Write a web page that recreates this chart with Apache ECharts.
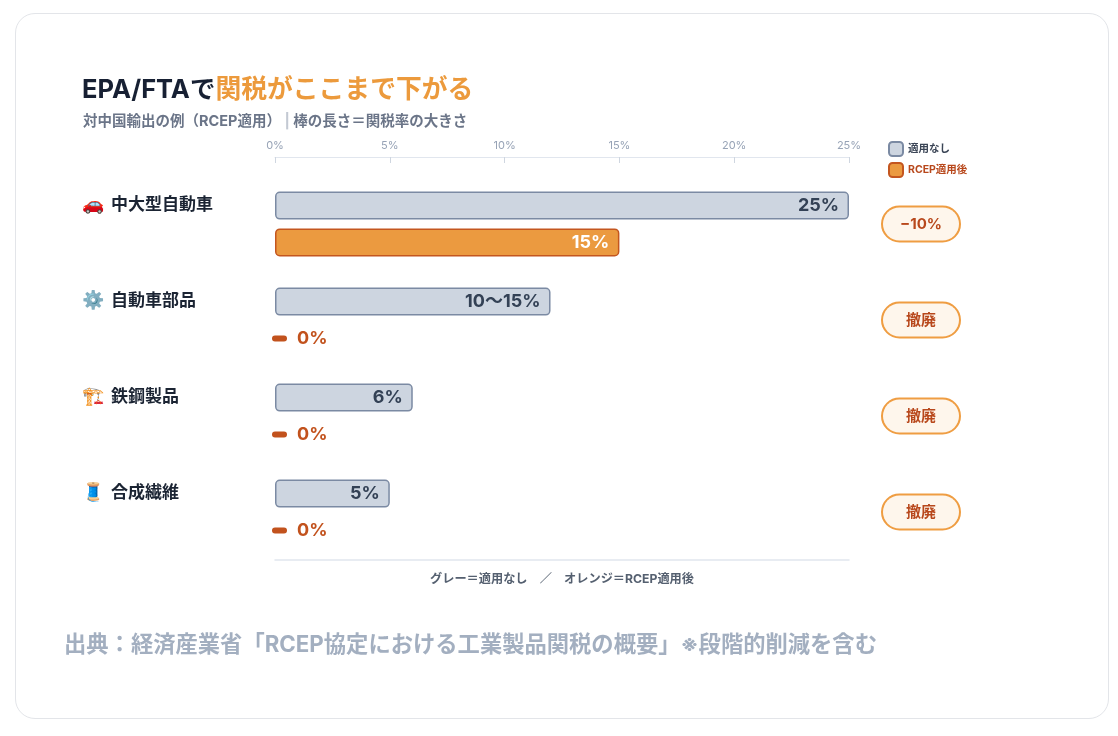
<!DOCTYPE html>
<html>
<head>
<meta charset="utf-8">
<script src="https://cdn.jsdelivr.net/npm/echarts@6/dist/echarts.min.js"></script>
<style>
  html, body { margin: 0; padding: 0; background: #fff; }
  #card {
    position: absolute; left: 15px; top: 13px; width: 1092px; height: 704px;
    border: 1.5px solid #e3e5e9; border-radius: 20px; background: #fff;
  }
  #chart { position: absolute; left: 0; top: 0; width: 1118px; height: 736px; }
</style>
</head>
<body>
<div id="card"></div>
<div id="chart"></div>
<script>
/* データ */
var categories = ['🚗 中大型自動車', '⚙️ 自動車部品', '🏗️ 鉄鋼製品', '🧵 合成繊維'];
var beforeValues = [25, 12, 6, 5];            // 適用なし（棒の長さ）
var beforeLabels = ['25%', '10〜15%', '6%', '5%'];
var afterValues = [15, 0, 0, 0];              // RCEP適用後
var afterLabels = ['15%', '0%', '0%', '0%'];
var badges = ['−10%', '撤廃', '撤廃', '撤廃'];
var seriesNames = ['適用なし', 'RCEP適用後'];

var titleMain = 'EPA/FTAで';
var titleAccent = '関税がここまで下がる';
var subLeft = '対中国輸出の例（RCEP適用）';
var subRight = '棒の長さ＝関税率の大きさ';
var noteText = 'グレー＝適用なし　／　オレンジ＝RCEP適用後';
var sourceText = '出典：経済産業省「RCEP協定における工業製品関税の概要」※段階的削減を含む';

var FONT = 'Inter, "Noto Sans CJK JP", sans-serif';

(function(){
  var chart = document.getElementById('chart');
  var echart = echarts.init(chart);

  // RCEP適用後：0% は短いダッシュ＋ラベル
  var afterData = afterValues.map(function(v, i){
    if (v > 0) {
      return { value: v };
    }
    return {
      value: v,
      itemStyle: { borderWidth: 0 },
      label: {
        show: true,
        position: [-3, 14],
        align: 'left',
        verticalAlign: 'middle',
        formatter: '{d| }{t|' + afterLabels[i] + '}',
        rich: {
          d: { width: 15, height: 6, backgroundColor: '#c2521d', borderRadius: 3 },
          t: { color: '#c2521d', fontSize: 18, fontWeight: 'bold', fontFamily: FONT, padding: [0, 0, 0, 10] }
        }
      }
    };
  });

  var option = {
    animation: false,
    textStyle: { fontFamily: FONT },
    title: [
      {
        left: 82, top: 77, padding: 0,
        text: '{a|' + titleMain + '}{b|' + titleAccent + '}',
        textStyle: {
          rich: {
            a: { fontSize: 25.5, fontWeight: 'bold', color: '#172033', fontFamily: FONT },
            b: { fontSize: 25.8, fontWeight: 'bold', color: '#ec9a3c', fontFamily: FONT }
          }
        }
      },
      {
        left: 83, top: 114, padding: 0,
        text: '{a|' + subLeft + '}{s| | }{a|' + subRight + '}',
        textStyle: {
          rich: {
            a: { fontSize: 14.5, fontWeight: 'bold', color: '#6b7588', fontFamily: FONT },
            s: { fontSize: 14.5, color: '#c3c9d3', fontFamily: FONT }
          }
        }
      },
      {
        left: 562, top: 573, textAlign: 'center', padding: 0,
        text: noteText,
        textStyle: { fontSize: 12.2, fontWeight: 'bold', color: '#556070', fontFamily: FONT }
      },
      {
        left: 64, top: 634, padding: 0,
        text: sourceText,
        textStyle: { fontSize: 22.3, fontWeight: 'bold', color: '#a3afc0', fontFamily: FONT }
      }
    ],
    legend: {
      orient: 'vertical',
      left: 888, top: 141, padding: 0,
      itemWidth: 14, itemHeight: 14, itemGap: 5,
      icon: 'roundRect',
      data: [
        { name: seriesNames[0], textStyle: { color: '#3b4556' } },
        { name: seriesNames[1], textStyle: { color: '#b8481c' } }
      ],
      textStyle: { fontSize: 10.5, fontWeight: 'bold', fontFamily: FONT }
    },
    grid: { left: 275, right: 269, top: 176, bottom: 176 },
    xAxis: [
      {
        type: 'value', position: 'top', offset: 19,
        min: 0, max: 25, interval: 5,
        axisLine: { show: true, lineStyle: { color: '#e1e6ee', width: 1 } },
        axisTick: { show: true, inside: true, length: 6, lineStyle: { color: '#cfd6e0' } },
        axisLabel: { formatter: '{value}%', color: '#97a3b6', fontSize: 11, margin: 6, fontFamily: FONT },
        splitLine: { show: false }
      },
      {
        type: 'value', position: 'bottom',
        min: 0, max: 25, interval: 5,
        axisLine: { show: true, lineStyle: { color: '#e1e6ee', width: 1.5 } },
        axisTick: { show: false },
        axisLabel: { show: false },
        splitLine: { show: false }
      }
    ],
    yAxis: [
      {
        type: 'category', inverse: true, data: categories,
        axisLine: { show: false }, axisTick: { show: false },
        axisLabel: {
          align: 'left', margin: 193,
          formatter: function(v){
            var k = v.indexOf(' ');
            return '{e|' + v.slice(0, k) + '}{n|' + v.slice(k + 1) + '}';
          },
          rich: {
            e: { fontSize: 18, width: 29, padding: [0, 0, 38, 0] },
            n: {
              color: '#1b2433', fontSize: 17, fontWeight: 'bold', fontFamily: FONT,
              padding: [0, 0, 38, 0]
            }
          }
        }
      },
      {
        type: 'category', inverse: true, data: badges, position: 'right',
        axisLine: { show: false }, axisTick: { show: false },
        axisLabel: {
          align: 'left', margin: 34,
          formatter: function(v){ return '{p|' + v + '}'; },
          rich: {
            p: {
              width: 76, height: 33, lineHeight: 33, align: 'center',
              backgroundColor: '#fef6ec', borderColor: '#ef9d42', borderWidth: 2, borderRadius: 18,
              color: '#b8481c', fontSize: 15, fontWeight: 'bold', fontFamily: FONT
            }
          }
        }
      }
    ],
    series: [
      {
        name: seriesNames[0], type: 'bar',
        xAxisIndex: 0, yAxisIndex: 0,
        data: beforeValues,
        barWidth: 28, barGap: '32%',
        itemStyle: { color: '#cdd5e0', borderColor: '#7b8aa3', borderWidth: 1.5, borderRadius: 4 },
        label: {
          show: true, position: 'insideRight', distance: 10,
          formatter: function(p){ return beforeLabels[p.dataIndex]; },
          color: '#334155', fontSize: 18, fontWeight: 'bold', fontFamily: FONT
        }
      },
      {
        name: seriesNames[1], type: 'bar',
        xAxisIndex: 0, yAxisIndex: 0,
        data: afterData,
        barWidth: 28,
        itemStyle: { color: '#eb9a40', borderColor: '#c4561f', borderWidth: 1.5, borderRadius: 4 },
        label: {
          show: true, position: 'insideRight', distance: 10,
          formatter: function(p){ return afterLabels[p.dataIndex]; },
          color: '#ffffff', fontSize: 18, fontWeight: 'bold', fontFamily: FONT
        }
      }
    ]
  };
  echart.setOption(option);
})();
</script>
</body>
</html>
